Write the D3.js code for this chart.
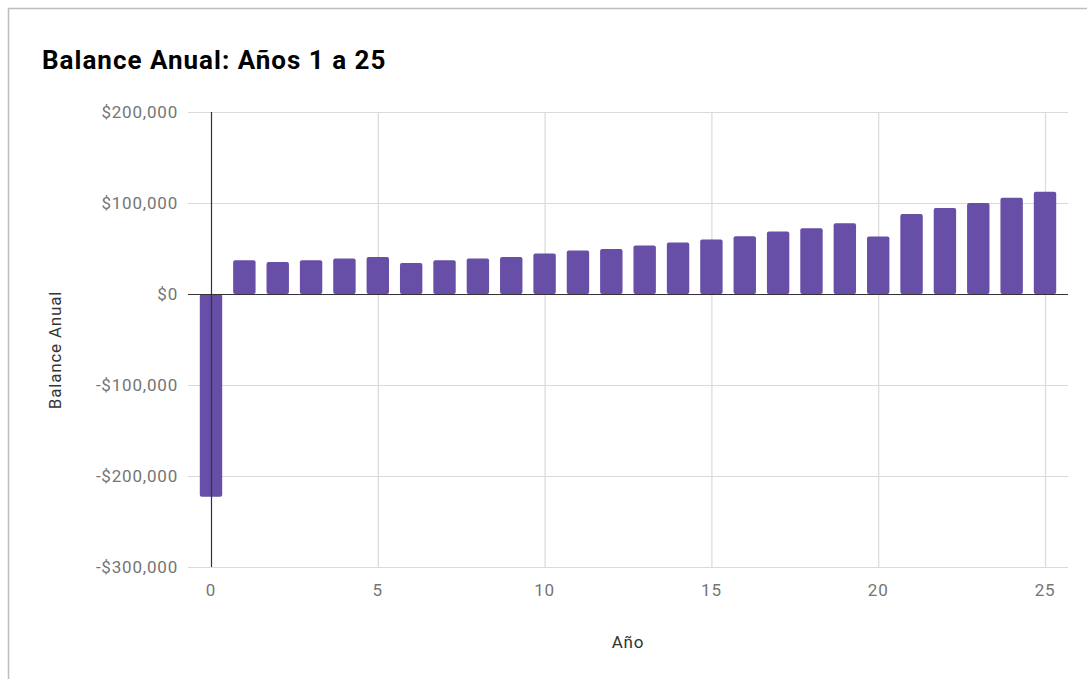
<!DOCTYPE html>
<html>
<head>
<meta charset="utf-8">
<script src="https://cdn.jsdelivr.net/npm/d3@7"></script>
<style>
  html, body { margin: 0; padding: 0; background: #fff; }
  svg { display: block; font-family: Roboto, "Noto Sans", sans-serif; }
</style>
</head>
<body>
<svg id="chart" width="1087" height="679"></svg>
<script>
// Annual balance per year (year 0 = initial investment)
const years = d3.range(0, 26);
const balances = [
  -222700, 37000, 35200, 37000, 38900, 40700, 34000, 37000, 38900, 40700,
  44400, 47700, 49500, 53200, 56500, 59800, 63400, 68600, 72200, 77700,
  63100, 87900, 94500, 100000, 105900, 112500
];
const xTicks = [0, 5, 10, 15, 20, 25];
const yTicks = [-300000, -200000, -100000, 0, 100000, 200000];
const titleText = "Balance Anual: Años 1 a 25";
const xTitle = "Año";
const yTitle = "Balance Anual";

const svg = d3.select("#chart");

// outer frame
svg.append("path")
  .attr("d", "M8.5,679 L8.5,8.5 L1087,8.5")
  .attr("fill", "none")
  .attr("stroke", "#bdbdbd")
  .attr("stroke-width", 1.5);

const x = d3.scaleLinear().domain([0, 25]).range([211, 1045]);
const y = d3.scaleLinear().domain([-300000, 200000]).range([567, 112]);
const gridLeft = 188, gridRight = 1068;

// horizontal gridlines
svg.append("g").selectAll("line").data(yTicks).join("line")
  .attr("x1", gridLeft).attr("x2", gridRight)
  .attr("y1", d => y(d) + 0.5).attr("y2", d => y(d) + 0.5)
  .attr("stroke", "#dadada").attr("stroke-width", 1.2);

// vertical gridlines
svg.append("g").selectAll("line").data(xTicks.filter(d => d !== 0)).join("line")
  .attr("x1", d => x(d) + 0.5).attr("x2", d => x(d) + 0.5)
  .attr("y1", y(200000)).attr("y2", y(-300000))
  .attr("stroke", "#dadada").attr("stroke-width", 1.2);

// y tick labels
const fmt = v => (v < 0 ? "-$" : "$") + d3.format(",")(Math.abs(v));
svg.append("g").selectAll("text").data(yTicks).join("text")
  .attr("x", 178).attr("y", d => y(d))
  .attr("dy", "0.35em")
  .attr("text-anchor", "end")
  .attr("font-size", 17)
  .attr("letter-spacing", 0.8)
  .attr("fill", "#757575")
  .text(fmt);

// x tick labels
svg.append("g").selectAll("text").data(xTicks).join("text")
  .attr("x", d => x(d)).attr("y", 590)
  .attr("dy", "0.35em")
  .attr("text-anchor", "middle")
  .attr("font-size", 17)
  .attr("letter-spacing", 0.8)
  .attr("fill", "#757575")
  .text(d => d);

// bars
const barW = 22.4;
svg.append("g").selectAll("rect").data(years).join("rect")
  .attr("x", d => x(d) - barW / 2)
  .attr("y", d => Math.min(y(balances[d]), y(0)))
  .attr("width", barW)
  .attr("height", d => Math.abs(y(balances[d]) - y(0)))
  .attr("rx", 2).attr("ry", 2)
  .attr("fill", "#674ea7");

// baseline at zero and vertical axis at year 0
svg.append("line")
  .attr("x1", gridLeft).attr("x2", gridRight)
  .attr("y1", y(0) + 0.5).attr("y2", y(0) + 0.5)
  .attr("stroke", "#333").attr("stroke-width", 1.2);
svg.append("line")
  .attr("x1", x(0) + 0.5).attr("x2", x(0) + 0.5)
  .attr("y1", y(200000)).attr("y2", y(-300000))
  .attr("stroke", "#333").attr("stroke-width", 1.2);

// titles
svg.append("text")
  .attr("x", 42).attr("y", 69)
  .attr("font-size", 26)
  .attr("letter-spacing", 1)
  .attr("font-weight", "bold")
  .attr("fill", "#000")
  .text(titleText);

svg.append("text")
  .attr("x", 628).attr("y", 642)
  .attr("dy", "0.35em")
  .attr("text-anchor", "middle")
  .attr("font-size", 17)
  .attr("letter-spacing", 0.8)
  .attr("fill", "#333")
  .text(xTitle);

svg.append("text")
  .attr("transform", "translate(55,350) rotate(-90)")
  .attr("dy", "0.35em")
  .attr("text-anchor", "middle")
  .attr("font-size", 17)
  .attr("letter-spacing", 0.8)
  .attr("fill", "#333")
  .text(yTitle);
</script>
</body>
</html>
